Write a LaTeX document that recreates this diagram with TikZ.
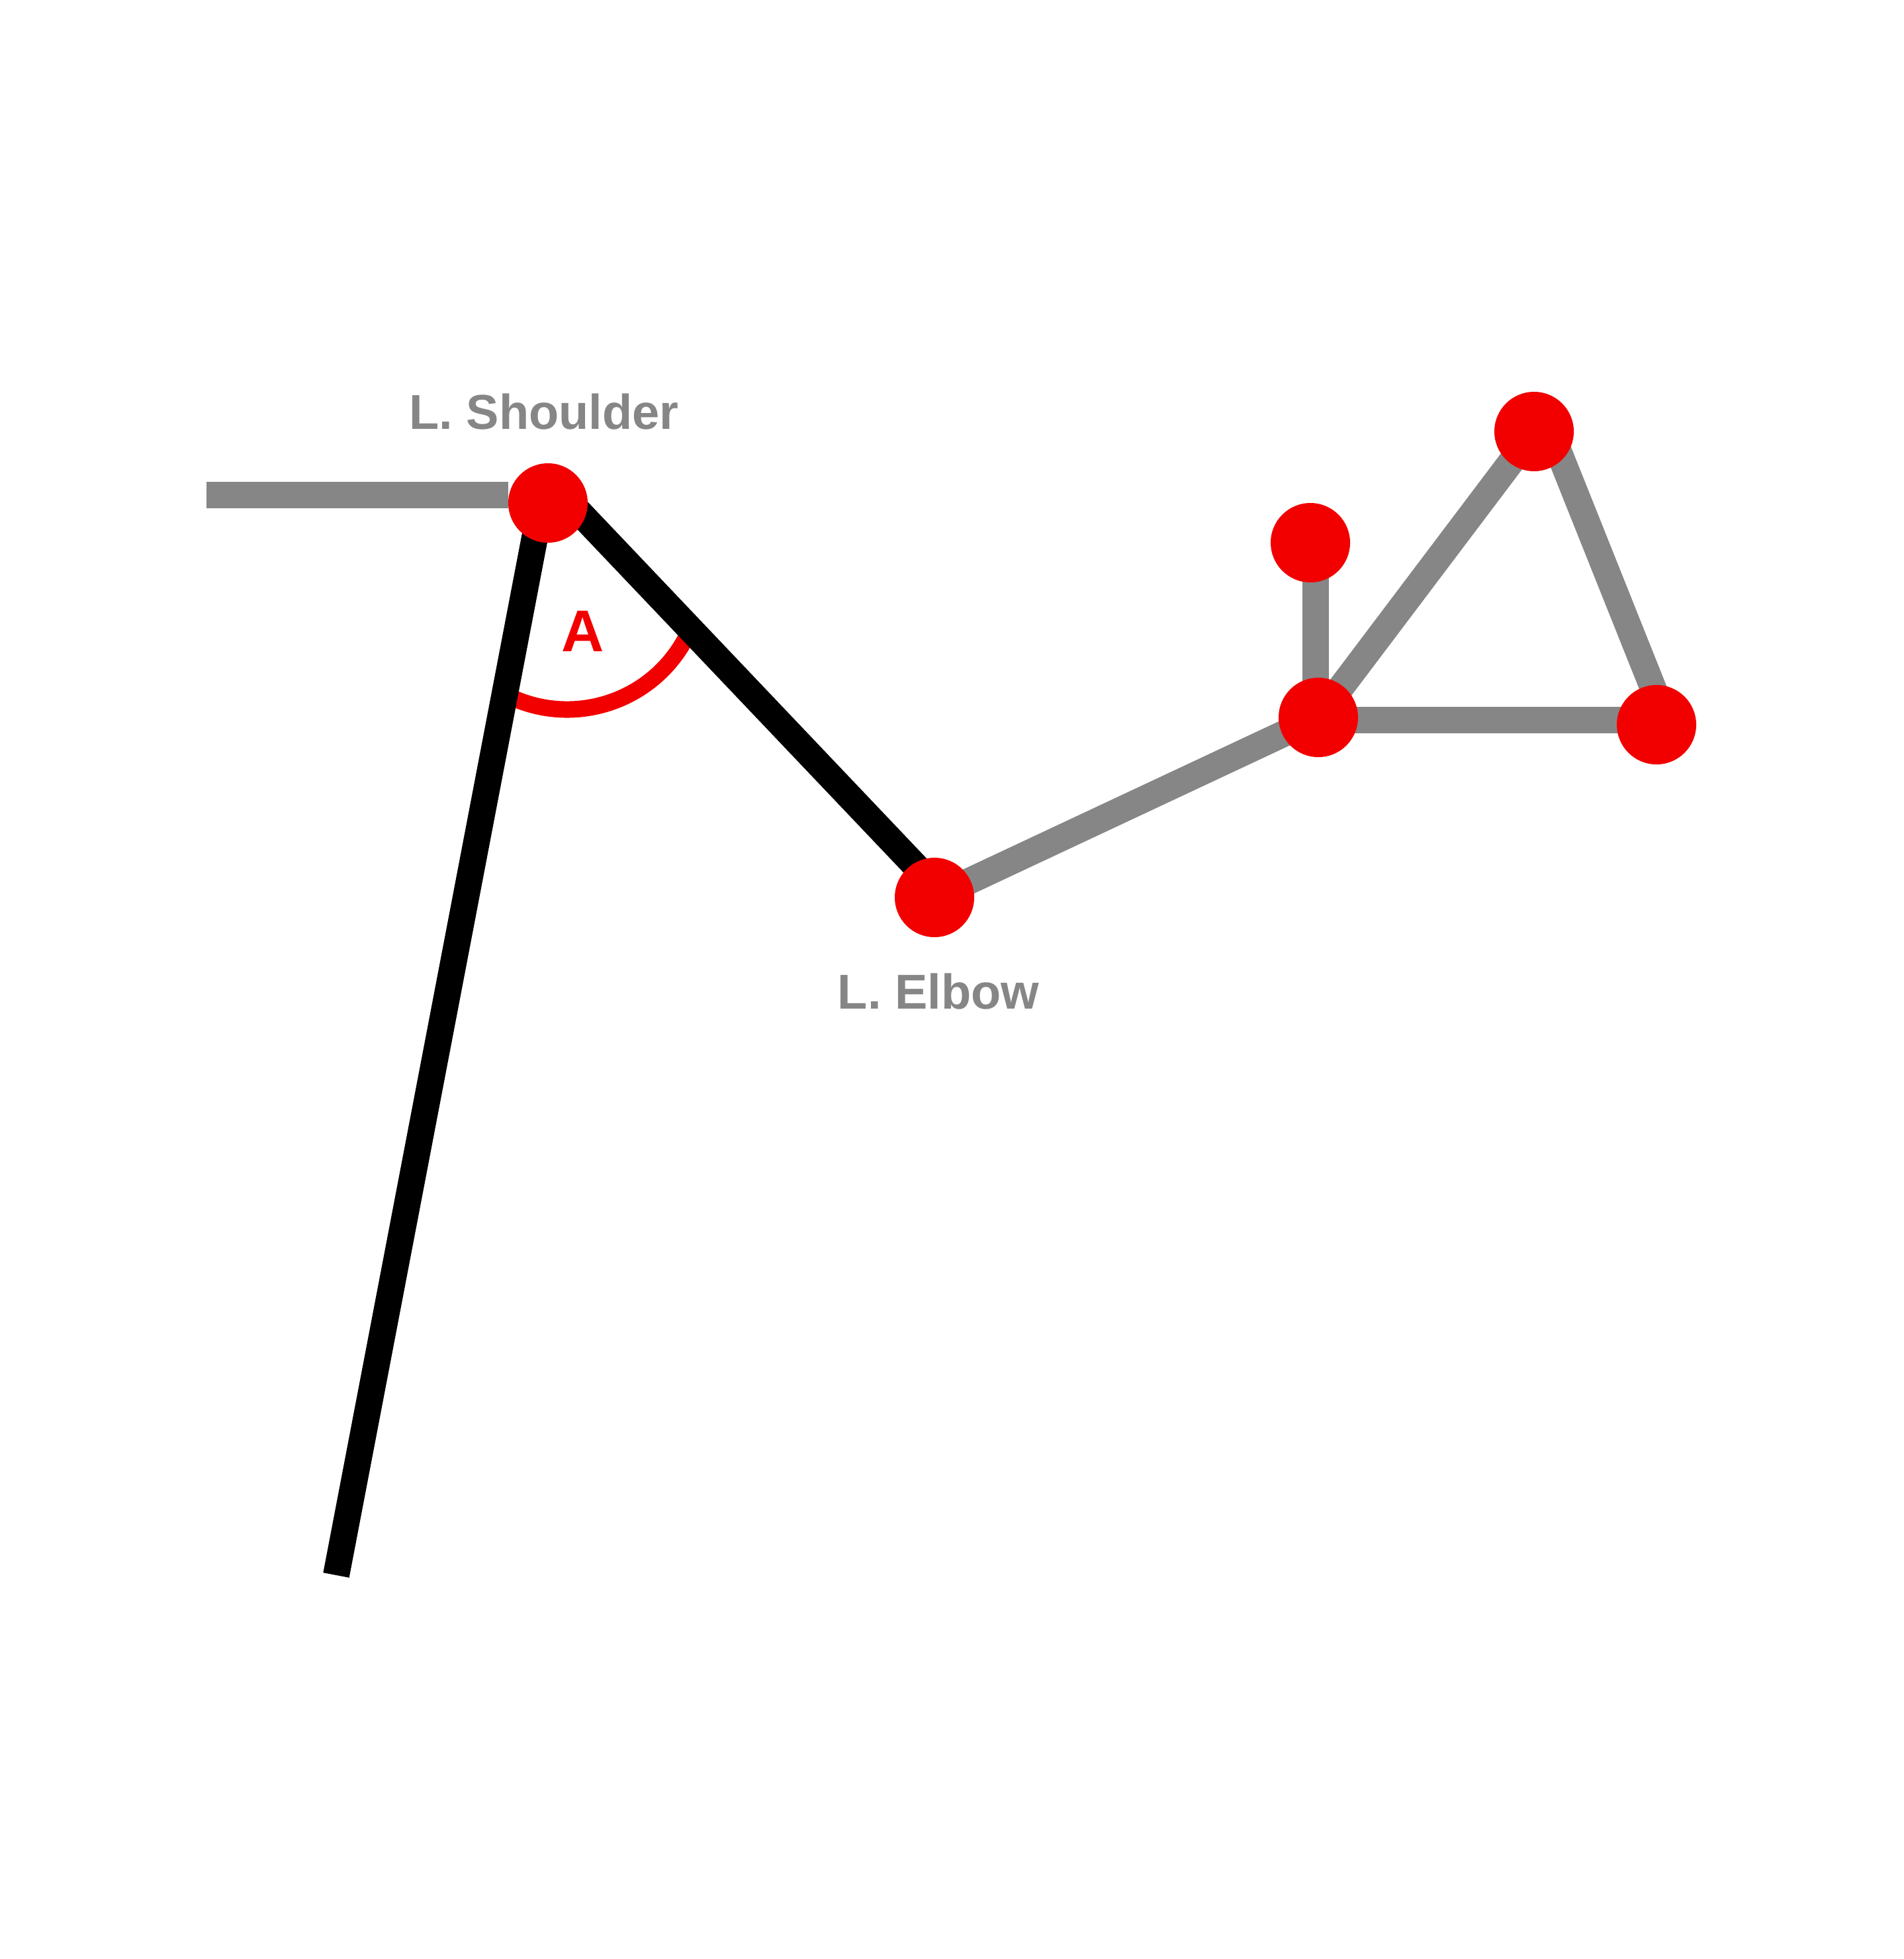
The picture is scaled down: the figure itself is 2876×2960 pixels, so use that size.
\documentclass[tikz,border=0pt]{standalone}
\usepackage{fontspec}
\setmainfont{Liberation Sans}
\definecolor{jred}{RGB}{242,0,0}
\definecolor{jgray}{RGB}{134,134,134}
\begin{document}
\begin{tikzpicture}[x=1pt,y=-1pt,
  joint/.style={circle,fill=jred,draw=none,minimum size=120pt,inner sep=0pt},
  bone/.style={line width=40pt,draw=jgray},
  limb/.style={line width=40pt,draw=black},
  anglearc/.style={line width=25pt,draw=jred},
  lbl/.style={text=jgray,font=\fontsize{74}{80}\selectfont\bfseries,anchor=base,inner sep=0pt},
  anglelbl/.style={text=jred,font=\fontsize{89}{95}\selectfont\bfseries,anchor=base,inner sep=0pt},
]
\useasboundingbox (0,0) rectangle (2876,2960);
\fill[white] (0,0) rectangle (2876,2960);
% joint centres
\coordinate (shoulder) at (828,760);
\coordinate (elbow) at (1412,1356);
\coordinate (thumb) at (1980,820);
\coordinate (wrist) at (1992,1084);
\coordinate (tip) at (2318,652);
\coordinate (pinky) at (2503,1095);
% line end points
\coordinate (neck) at (312,748);
\coordinate (shedge) at (768,748);
\coordinate (vertex) at (825,721);
\coordinate (armtop) at (818,760);
\coordinate (hip) at (508,2380);
\coordinate (elbowend) at (1420,1347);
\coordinate (thumbline) at (1988,820);
\coordinate (wristline) at (1988,1084);
\coordinate (wristh) at (1992,1088);
\coordinate (pinkyh) at (2503,1088);
\coordinate (tipline) at (2343,652);
\coordinate (pinkyline) at (2520,1095);
\coordinate (arccentre) at (857,869);
% gray skeleton
\draw[bone] (neck) -- (shedge);
\draw[bone] (elbow) -- (wrist);
\draw[bone] (thumbline) -- (wristline);
\draw[bone] (wrist) -- (tip);
\draw[bone] (tipline) -- (pinkyline);
\draw[bone] (wristh) -- (pinkyh);
% angle arc
\draw[anglearc] ([shift={(26:203)}]arccentre) arc[start angle=26,end angle=116,radius=203];
% black arms
\draw[limb] (armtop) -- (hip);
\draw[limb] (vertex) -- (elbowend);
% joints
\node[joint] (jshoulder) at (shoulder) {};
\node[joint] (jelbow) at (elbow) {};
\node[joint] (jthumb) at (thumb) {};
\node[joint] (jwrist) at (wrist) {};
\node[joint] (jtip) at (tip) {};
\node[joint] (jpinky) at (pinky) {};
% labels
\node[lbl] (lshoulder) at (822,648) {L. Shoulder};
\node[lbl] (lelbow) at (1418,1524) {L. Elbow};
\node[anglelbl] (langle) at (881,984) {A};
\end{tikzpicture}
\end{document}
